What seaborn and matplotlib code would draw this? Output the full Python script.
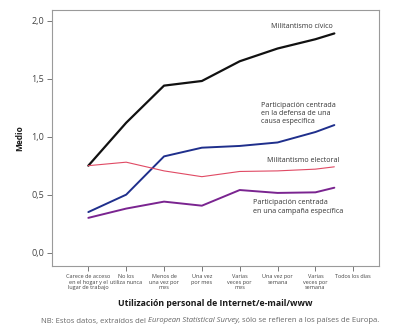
import matplotlib
matplotlib.use("Agg")
import matplotlib.pyplot as plt
import seaborn as sns
import pandas as pd

sns.set_theme(style="white")
plt.rcParams["font.family"] = ["Open Sans", "DejaVu Sans"]

# Internet use categories (x axis)
categories = [
    "Carece de acceso\nen el hogar y el\nlugar de trabajo",
    "No los\nutiliza nunca",
    "Menos de\nuna vez por\nmes",
    "Una vez\npor mes",
    "Varias\nveces por\nmes",
    "Una vez por\nsemana",
    "Varias\nveces por\nsemana",
    "Todos los días",
]
# horizontal position of each measured point on the category axis
point_pos = [0, 1, 2, 3, 4, 5, 6, 6.5]

civico = [0.75, 1.12, 1.44, 1.48, 1.65, 1.76, 1.84, 1.89]
causa = [0.35, 0.50, 0.83, 0.905, 0.92, 0.95, 1.04, 1.10]
electoral = [0.75, 0.78, 0.705, 0.655, 0.70, 0.705, 0.72, 0.74]
campana = [0.30, 0.38, 0.44, 0.405, 0.54, 0.515, 0.52, 0.56]

series_names = ["Militantismo cívico", "Causa", "Militantismo electoral", "Campaña"]
series_values = [civico, causa, electoral, campana]

rows = []
for name, vals in zip(series_names, series_values):
    for xp, v in zip(point_pos, vals):
        rows.append({"uso": xp, "medio": v, "serie": name})
df = pd.DataFrame(rows)

palette = {
    "Militantismo cívico": "#111111",
    "Causa": "#1f2f8c",
    "Militantismo electoral": "#e04a64",
    "Campaña": "#7a2490",
}
widths = {
    "Militantismo cívico": 1.6,
    "Causa": 1.4,
    "Militantismo electoral": 0.8,
    "Campaña": 1.4,
}

fig = plt.figure(figsize=(4.0, 3.35), dpi=100)
ax = fig.add_axes([52 / 400, 1 - 266 / 335, (379 - 52) / 400, (266 - 10) / 335])

for name in series_names:
    sub = df[df["serie"] == name]
    sns.lineplot(data=sub, x="uso", y="medio", color=palette[name],
                 linewidth=widths[name], ax=ax, legend=False, sort=False)

ax.set_xlim(-0.96, 7.68)
ax.set_ylim(-0.115, 2.092)

ax.set_xticks(range(len(categories)))
ax.set_xticklabels(categories, fontsize=4.0, color="#444444", linespacing=1.05,
                   va="top")
yticks = [0.0, 0.5, 1.0, 1.5, 2.0]
ax.set_yticks(yticks)
ax.set_yticklabels([f"{t:.1f}".replace(".", ",") for t in yticks],
                   fontsize=6.5, color="#444444")
ax.tick_params(axis="both", direction="out", length=3.5, width=0.7,
               color="#777777", left=True, bottom=True)
ax.tick_params(axis="x", pad=2.5)
ax.tick_params(axis="y", pad=2)

for sp in ax.spines.values():
    sp.set_color("#9a9a9a")
    sp.set_linewidth(0.8)

ax.set_xlabel("Utilización personal de Internet/e-mail/www", fontsize=6.3,
              fontweight="bold", color="#1a1a1a", labelpad=7)
ax.set_ylabel("Medio", fontsize=6.0, fontweight="bold", color="#1a1a1a",
              labelpad=5)

lab_kw = dict(fontsize=5.1, color="#333333", linespacing=1.25)
ax.text(5.64, 1.954, "Militantismo cívico", ha="center", va="center", **lab_kw)
ax.text(4.56, 1.20, "Participación centrada\nen la defensa de una\ncausa específica",
        ha="left", va="center", **lab_kw)
ax.text(5.67, 0.793, "Militantismo electoral", ha="center", va="center", **lab_kw)
ax.text(4.35, 0.394, "Participación centrada\nen una campaña específica",
        ha="left", va="center", **lab_kw)

# Footnote with the survey name in italics
note_kw = dict(fontsize=5.5, color="#666666", va="center")
parts = [
    ("NB: Estos datos, extraídos del ", "normal"),
    ("European Statistical Survey", "italic"),
    (", sólo se refieren a los países de Europa.", "normal"),
]
texts = [fig.text(0, 1 - 321 / 335, s, style=st, **note_kw) for s, st in parts]
fig.canvas.draw()
renderer = fig.canvas.get_renderer()
w = [t.get_window_extent(renderer).width for t in texts]
x0 = 210 - sum(w) / 2
for t, wi in zip(texts, w):
    t.set_x(x0 / 400)
    x0 += wi

fig.savefig("out.png", dpi=100)
